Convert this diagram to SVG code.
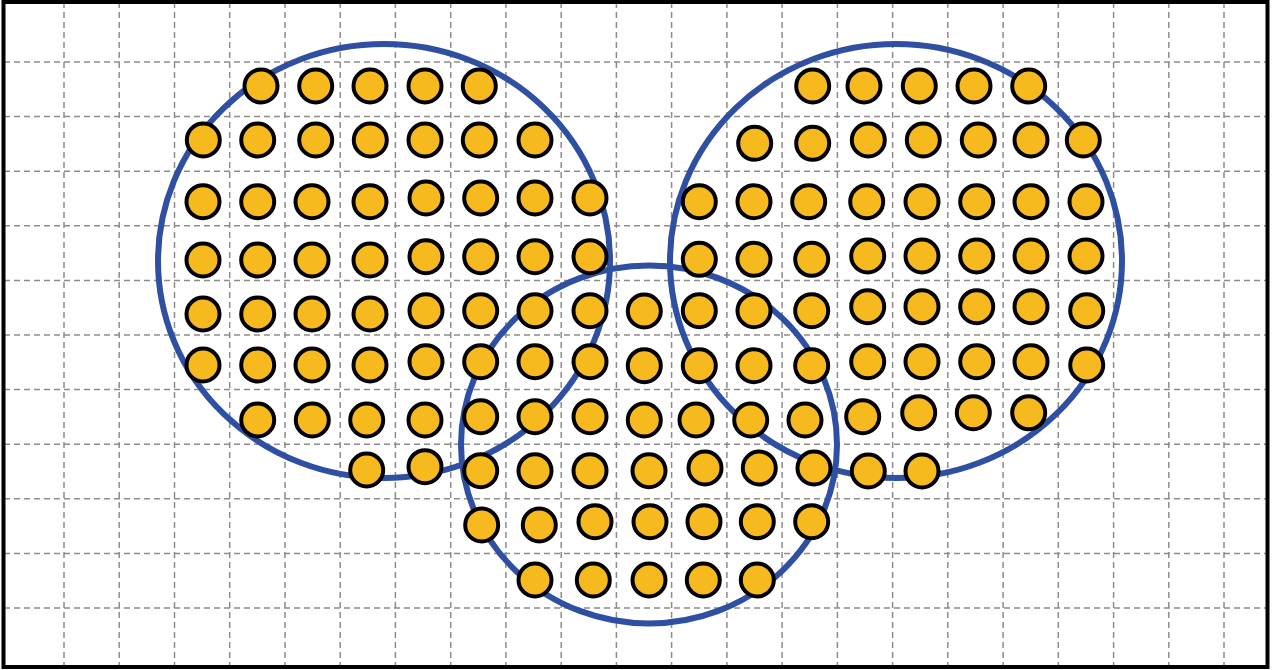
<svg xmlns="http://www.w3.org/2000/svg" width="1279" height="670" viewBox="0 0 1279 670">
<style>
.g{stroke:#8c8c8c;stroke-width:1.5;stroke-dasharray:6 4;fill:none}
.c{fill:none;stroke:#2F4FA2;stroke-width:6}
.d circle{fill:#F6BA1E;stroke:#000;stroke-width:4}
</style>
<defs><circle id="p" r="16.5"/></defs>
<rect x="0" y="0" width="1279" height="670" fill="#fff"/>
<g id="grid" class="g">
<path d="M64 2V668M119.2 2V668M174.5 2V668M229.7 2V668M285 2V668M340.2 2V668M395.4 2V668M450.7 2V668M505.9 2V668M561.2 2V668M616.4 2V668M671.6 2V668M726.9 2V668M782.1 2V668M837.4 2V668M892.6 2V668M947.8 2V668M1003.1 2V668M1058.3 2V668M1113.6 2V668M1168.8 2V668M1224 2V668"/>
<path d="M4 62H1268M4 116.6H1268M4 171.2H1268M4 225.8H1268M4 280.4H1268M4 335H1268M4 389.6H1268M4 444.2H1268M4 498.8H1268M4 553.4H1268M4 608H1268"/>
</g>
<g id="circles">
<ellipse id="circle-left" class="c" cx="384" cy="261" rx="226" ry="217"/>
<ellipse id="circle-right" class="c" cx="896" cy="261" rx="226" ry="217"/>
<ellipse id="circle-bottom" class="c" cx="649" cy="444.5" rx="188" ry="179"/>
</g>
<g id="dots" class="d">
<circle cx="261" cy="86" r="16.5"/><circle cx="315.7" cy="86" r="16.5"/><circle cx="370" cy="86" r="16.5"/><circle cx="425" cy="86" r="16.5"/><circle cx="479.3" cy="86" r="16.5"/>
<circle cx="812.7" cy="86" r="16.5"/><circle cx="864" cy="86" r="16.5"/><circle cx="919.3" cy="86" r="16.5"/><circle cx="974" cy="86" r="16.5"/><circle cx="1028.7" cy="86" r="16.5"/>
<circle cx="203.3" cy="140" r="16.5"/><circle cx="257.7" cy="140" r="16.5"/><circle cx="315.7" cy="140" r="16.5"/><circle cx="370.3" cy="140" r="16.5"/><circle cx="425" cy="140" r="16.5"/><circle cx="479.3" cy="140" r="16.5"/><circle cx="535" cy="140" r="16.5"/>
<circle cx="754.7" cy="143.3" r="16.5"/><circle cx="812.7" cy="143.3" r="16.5"/><circle cx="868.3" cy="140" r="16.5"/><circle cx="923.3" cy="140" r="16.5"/><circle cx="978.3" cy="140" r="16.5"/><circle cx="1031" cy="140" r="16.5"/><circle cx="1083.3" cy="140" r="16.5"/>
<circle cx="203" cy="201.7" r="16.5"/><circle cx="257.7" cy="201.7" r="16.5"/><circle cx="312" cy="201.7" r="16.5"/><circle cx="370" cy="201.7" r="16.5"/><circle cx="426" cy="198" r="16.5"/><circle cx="480.7" cy="198" r="16.5"/><circle cx="535" cy="198" r="16.5"/><circle cx="590" cy="198" r="16.5"/>
<circle cx="699.3" cy="201.7" r="16.5"/><circle cx="754" cy="201.7" r="16.5"/><circle cx="808.7" cy="201.7" r="16.5"/><circle cx="866.7" cy="201.7" r="16.5"/><circle cx="922" cy="201.7" r="16.5"/><circle cx="976.7" cy="201.7" r="16.5"/><circle cx="1031" cy="201.7" r="16.5"/><circle cx="1086" cy="201.7" r="16.5"/>
<circle cx="203" cy="260" r="16.5"/><circle cx="257.7" cy="260" r="16.5"/><circle cx="312" cy="260" r="16.5"/><circle cx="370" cy="260" r="16.5"/><circle cx="426" cy="256.7" r="16.5"/><circle cx="480.7" cy="256.7" r="16.5"/><circle cx="535" cy="256.7" r="16.5"/><circle cx="590" cy="256.7" r="16.5"/>
<circle cx="699.3" cy="259.3" r="16.5"/><circle cx="754" cy="259.3" r="16.5"/><circle cx="811.7" cy="259.3" r="16.5"/><circle cx="867.7" cy="256" r="16.5"/><circle cx="922" cy="256" r="16.5"/><circle cx="976.7" cy="256" r="16.5"/><circle cx="1031" cy="256" r="16.5"/><circle cx="1086" cy="256" r="16.5"/>
<circle cx="203" cy="314" r="16.5"/><circle cx="257.7" cy="314" r="16.5"/><circle cx="312" cy="314" r="16.5"/><circle cx="370" cy="314" r="16.5"/><circle cx="426" cy="310.7" r="16.5"/><circle cx="480.7" cy="310.7" r="16.5"/><circle cx="535" cy="310.7" r="16.5"/><circle cx="590" cy="310.7" r="16.5"/><circle cx="644.3" cy="311" r="16.5"/>
<circle cx="699.3" cy="310.7" r="16.5"/><circle cx="754" cy="310.7" r="16.5"/><circle cx="811.7" cy="310.7" r="16.5"/><circle cx="867.7" cy="306.7" r="16.5"/><circle cx="922" cy="306.7" r="16.5"/><circle cx="976.7" cy="306.7" r="16.5"/><circle cx="1031" cy="306.7" r="16.5"/><circle cx="1086.7" cy="310.7" r="16.5"/>
<circle cx="203" cy="365" r="16.5"/><circle cx="257.7" cy="365" r="16.5"/><circle cx="312" cy="365" r="16.5"/><circle cx="370" cy="365" r="16.5"/><circle cx="426" cy="361.7" r="16.5"/><circle cx="480.7" cy="361.7" r="16.5"/><circle cx="535" cy="361.7" r="16.5"/><circle cx="590" cy="361.7" r="16.5"/><circle cx="644.3" cy="365.7" r="16.5"/>
<circle cx="699.3" cy="365.7" r="16.5"/><circle cx="754" cy="365.7" r="16.5"/><circle cx="811.7" cy="365.7" r="16.5"/><circle cx="867.7" cy="361.7" r="16.5"/><circle cx="922" cy="361.7" r="16.5"/><circle cx="976.7" cy="361.7" r="16.5"/><circle cx="1031" cy="361.7" r="16.5"/><circle cx="1086.7" cy="365" r="16.5"/>
<circle cx="257.7" cy="420" r="16.5"/><circle cx="312.3" cy="420" r="16.5"/><circle cx="366.7" cy="420" r="16.5"/><circle cx="425" cy="420" r="16.5"/><circle cx="480.7" cy="416.7" r="16.5"/><circle cx="535" cy="416.7" r="16.5"/><circle cx="590" cy="416.7" r="16.5"/><circle cx="644.3" cy="420" r="16.5"/>
<circle cx="696" cy="420" r="16.5"/><circle cx="750.7" cy="420" r="16.5"/><circle cx="805" cy="420" r="16.5"/><circle cx="862.7" cy="416.7" r="16.5"/><circle cx="918.7" cy="412.7" r="16.5"/><circle cx="973.3" cy="412.7" r="16.5"/><circle cx="1028.7" cy="412.7" r="16.5"/>
<circle cx="366.7" cy="470" r="16.5"/><circle cx="425" cy="466.7" r="16.5"/><circle cx="480.7" cy="470.7" r="16.5"/><circle cx="535" cy="470.7" r="16.5"/><circle cx="590" cy="470.7" r="16.5"/><circle cx="649" cy="470.7" r="16.5"/>
<circle cx="705" cy="468" r="16.5"/><circle cx="759.3" cy="468" r="16.5"/><circle cx="814" cy="468" r="16.5"/><circle cx="868.3" cy="471" r="16.5"/><circle cx="922" cy="471" r="16.5"/>
<circle cx="481.7" cy="525" r="16.5"/><circle cx="539.3" cy="525" r="16.5"/><circle cx="595" cy="521.7" r="16.5"/><circle cx="650" cy="521.7" r="16.5"/><circle cx="704" cy="521.7" r="16.5"/><circle cx="757.3" cy="521.7" r="16.5"/><circle cx="811.7" cy="521.7" r="16.5"/>
<circle cx="535" cy="580" r="16.5"/><circle cx="593.3" cy="580" r="16.5"/><circle cx="649" cy="580" r="16.5"/><circle cx="703.3" cy="580" r="16.5"/><circle cx="757.3" cy="580" r="16.5"/>
</g>
<rect id="border" x="3.5" y="2" width="1264" height="665" fill="none" stroke="#000" stroke-width="4"/>
</svg>
